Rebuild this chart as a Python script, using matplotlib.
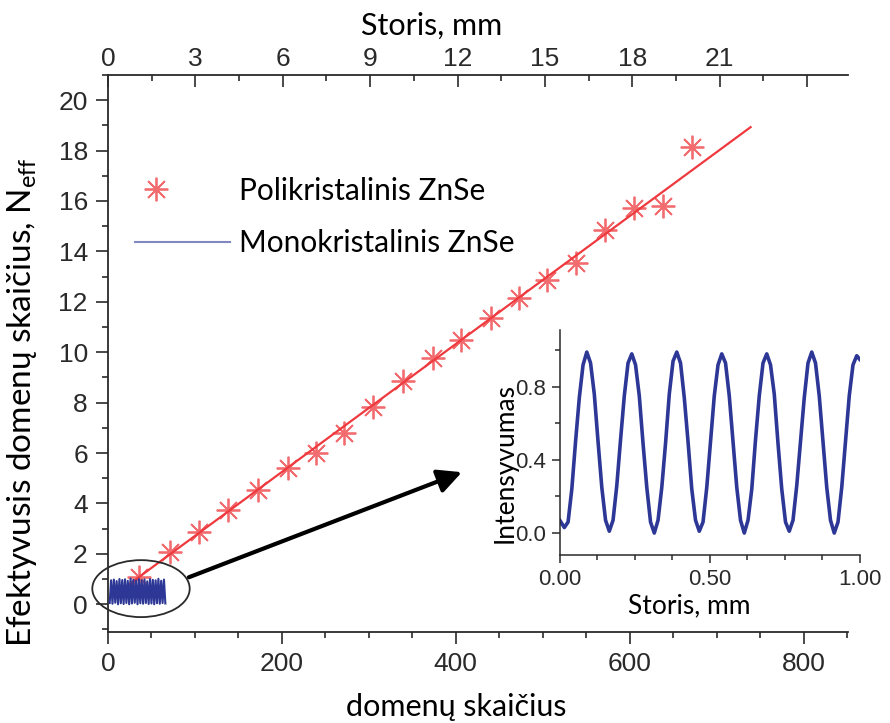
import matplotlib
matplotlib.use('Agg')
from matplotlib import pyplot as plt
from matplotlib.lines import Line2D
from matplotlib.patches import Ellipse
from matplotlib.legend_handler import HandlerLine2D
from matplotlib.ticker import MultipleLocator, FixedLocator, FuncFormatter

# polycrystalline ZnSe: effective domain number vs. number of domains
poly_x = [36, 71, 105, 138, 173, 207, 239, 272, 305, 339,
          374, 406, 441, 473, 505, 538, 572, 605, 638, 672]
poly_y = [1.07, 2.06, 2.86, 3.73, 4.52, 5.40, 6.00, 6.79, 7.82, 8.85,
          9.76, 10.50, 11.35, 12.14, 12.86, 13.53, 14.84, 15.71, 15.79, 18.13]

# linear fit through the polycrystalline points (end points)
fit_x = [20, 739]
fit_y = [0.68, 18.93]

# monocrystalline ZnSe, squeezed near the origin
mono_x = [2.0, 3.6, 5.2, 6.8, 8.4, 10.0, 11.6, 13.2, 14.8, 16.4, 18.0,
          19.6, 21.2, 22.8, 24.4, 26.0, 27.6, 29.2, 30.8, 32.4, 34.0,
          35.6, 37.2, 38.8, 40.4, 42.0, 43.6, 45.2, 46.8, 48.4, 50.0,
          51.6, 53.2, 54.8, 56.4, 58.0, 59.6, 61.2, 62.8, 64.4, 66.0]
mono_y = [0.05, 0.95, 0.02, 0.98, 0.06, 0.92, 0.0, 1.0, 0.04, 0.96, 0.01,
          0.99, 0.05, 0.93, 0.0, 1.02, 0.03, 0.97, 0.06, 0.94, 0.0,
          1.0, 0.04, 0.96, 0.02, 0.99, 0.05, 0.91, 0.01, 1.0, 0.03,
          0.97, 0.0, 0.95, 0.04, 1.01, 0.02, 0.93, 0.05, 0.98, 0.03]

# inset: intensity vs. thickness for the monocrystal
ins_x = [0.000,
         0.015, 0.0275, 0.040, 0.0525, 0.065, 0.0775, 0.090, 0.1025, 0.115, 0.1275, 0.140, 0.1525,
         0.165, 0.1775, 0.190, 0.2025, 0.215, 0.2275, 0.240, 0.2525, 0.265, 0.2775, 0.290, 0.3025,
         0.315, 0.3275, 0.340, 0.3525, 0.365, 0.3775, 0.390, 0.4025, 0.415, 0.4275, 0.440, 0.4525,
         0.465, 0.4775, 0.490, 0.5025, 0.515, 0.5275, 0.540, 0.5525, 0.565, 0.5775, 0.590, 0.6025,
         0.615, 0.6275, 0.640, 0.6525, 0.665, 0.6775, 0.690, 0.7025, 0.715, 0.7275, 0.740, 0.7525,
         0.765, 0.7775, 0.790, 0.8025, 0.815, 0.8275, 0.840, 0.8525, 0.865, 0.8775, 0.890, 0.9025,
         0.915, 0.9275, 0.940, 0.9525, 0.965, 0.9775, 0.990,
         1.000]
ins_y = [0.07,
         0.03, 0.06, 0.24, 0.50, 0.74, 0.92, 0.99, 0.93, 0.76, 0.50, 0.25, 0.07,
         0.01, 0.07, 0.26, 0.51, 0.75, 0.93, 0.98, 0.92, 0.75, 0.49, 0.25, 0.06,
         0.00, 0.07, 0.25, 0.49, 0.76, 0.94, 0.99, 0.93, 0.74, 0.50, 0.24, 0.07,
         0.01, 0.06, 0.25, 0.50, 0.75, 0.92, 0.98, 0.93, 0.75, 0.50, 0.25, 0.07,
         0.00, 0.07, 0.24, 0.51, 0.75, 0.93, 0.98, 0.92, 0.76, 0.49, 0.24, 0.06,
         0.01, 0.07, 0.26, 0.50, 0.74, 0.93, 0.99, 0.93, 0.75, 0.50, 0.25, 0.07,
         0.00, 0.06, 0.25, 0.50, 0.75, 0.92, 0.97,
         0.95]

domains_per_mm = 33.5
top_ticks = [0, 3, 6, 9, 12, 15, 18, 21, 24]
top_labels = ['0', '3', '6', '9', '12', '15', '18', '21', '']

red = '#ee3a3e'
blue = '#2d3796'
axc = '#2a2a2a'
lab_font = ['Lato', 'DejaVu Sans']


class StarHandler(HandlerLine2D):
    # puts the legend star left of the handle centre
    def get_xdata(self, legend, xdescent, ydescent, width, height, fontsize):
        xd, xm = super().get_xdata(legend, xdescent, ydescent, width, height, fontsize)
        shift = 0.27 * width
        return [x - shift for x in xd], [x - shift for x in xm]


plt.rcParams['font.family'] = ['Liberation Sans', 'DejaVu Sans']
plt.rcParams['mathtext.default'] = 'regular'

fig = plt.figure(figsize=(8.9, 7.23), dpi=100)
ax = fig.add_axes([0.1213, 0.1259, 0.8315, 0.7704])

ax.plot(fit_x, fit_y, color=red, lw=1.6, zorder=2)
ax.plot(poly_x, poly_y, ls='none', marker=(8, 2, 0), ms=17, mew=1.3,
        color=red, alpha=0.75, zorder=3)
ax.plot(mono_x, mono_y, color=blue, lw=1.5, zorder=4)

# ellipse around the monocrystal data and arrow to the inset
ax.add_patch(Ellipse((38, 0.62), width=112, height=2.26, fill=False,
                     lw=1.3, ec=axc, clip_on=False, zorder=5))
ax.annotate('', xy=(407, 5.24), xytext=(93, 1.07),
            arrowprops=dict(arrowstyle='-|>', lw=3, color='black',
                            mutation_scale=36, shrinkA=0, shrinkB=0))

ax.set_xlim(0, 851)
ax.set_ylim(-1.1, 21)
ax.xaxis.set_major_locator(MultipleLocator(200))
ax.xaxis.set_minor_locator(MultipleLocator(50))
ax.yaxis.set_major_locator(MultipleLocator(2))
ax.yaxis.set_minor_locator(MultipleLocator(1))
ax.tick_params(which='major', direction='out', length=8.5, width=1.2,
               labelsize=19, colors=axc, pad=6)
ax.tick_params(which='minor', direction='out', length=4.5, width=1.2,
               colors=axc)
for s in ['top', 'right']:
    ax.spines[s].set_visible(False)
for s in ['left', 'bottom']:
    ax.spines[s].set_linewidth(1.3)
    ax.spines[s].set_color(axc)

ax.set_xlabel('domenų skaičius', fontsize=22, family=lab_font)
ax.xaxis.set_label_coords(0.47, -0.109)
ax.set_ylabel(r'Efektyvusis domenų skaičius, N$_{\mathregular{eff}}$',
              fontsize=24, family=lab_font)
ax.yaxis.set_label_coords(-0.093, 0.413)

# thickness axis on top
sec = ax.secondary_xaxis('top', functions=(lambda d: d / domains_per_mm,
                                           lambda t: t * domains_per_mm))
sec.xaxis.set_major_locator(FixedLocator(top_ticks))
sec.xaxis.set_major_formatter(FuncFormatter(
    lambda v, p: top_labels[top_ticks.index(round(v))] if round(v) in top_ticks else ''))
sec.xaxis.set_minor_locator(MultipleLocator(1.5))
sec.tick_params(which='major', direction='in', length=8.5, width=1.2,
                labelsize=19, colors=axc, pad=3)
sec.tick_params(which='minor', direction='in', length=4.5, width=1.2,
                colors=axc)
sec.spines['top'].set_linewidth(1.3)
sec.spines['top'].set_color(axc)
sec.set_xlabel('Storis, mm', fontsize=22, family=lab_font)
sec.xaxis.set_label_coords(0.438, 1.072, transform=ax.transAxes)

# legend
star_h = Line2D([], [], ls='none', marker=(8, 2, 0), ms=17, mew=1.3,
                color=red, alpha=0.75)
line_h = Line2D([], [], color=blue, lw=1.5, alpha=0.6)
ax.legend([star_h, line_h], ['Polikristalinis ZnSe', 'Monokristalinis ZnSe'],
          handler_map={star_h: StarHandler(numpoints=1)},
          loc='upper left', bbox_to_anchor=(0.036, 0.817), frameon=False,
          prop={'family': lab_font, 'size': 21.5}, handlelength=3.18,
          handletextpad=0.33, labelspacing=0.82, borderpad=0,
          borderaxespad=0)

# inset
ins = fig.add_axes([0.629, 0.2324, 0.337, 0.311])
ins.plot(ins_x, ins_y, color=blue, lw=2.6)
ins.set_xlim(0, 1.0)
ins.set_ylim(-0.12, 1.11)
ins.xaxis.set_major_locator(FixedLocator([0, 0.5, 1.0]))
ins.xaxis.set_major_formatter(FuncFormatter(lambda v, p: f'{v:.2f}'))
ins.xaxis.set_minor_locator(MultipleLocator(0.125))
ins.yaxis.set_major_locator(FixedLocator([0, 0.4, 0.8]))
ins.yaxis.set_major_formatter(FuncFormatter(lambda v, p: f'{v:.1f}'))
ins.yaxis.set_minor_locator(MultipleLocator(0.2))
ins.tick_params(which='major', direction='out', length=6, width=1.1,
                labelsize=16, colors=axc, pad=4)
ins.tick_params(which='minor', direction='out', length=3.5, width=1.1,
                colors=axc)
for s in ['top', 'right']:
    ins.spines[s].set_visible(False)
for s in ['left', 'bottom']:
    ins.spines[s].set_linewidth(1.1)
    ins.spines[s].set_color(axc)
ins.set_xlabel('Storis, mm', fontsize=19, family=lab_font)
ins.xaxis.set_label_coords(0.433, -0.172)
ins.set_ylabel('Intensyvumas', fontsize=19, family=lab_font)
ins.yaxis.set_label_coords(-0.14, 0.41)

fig.savefig('out.png', dpi=100)
